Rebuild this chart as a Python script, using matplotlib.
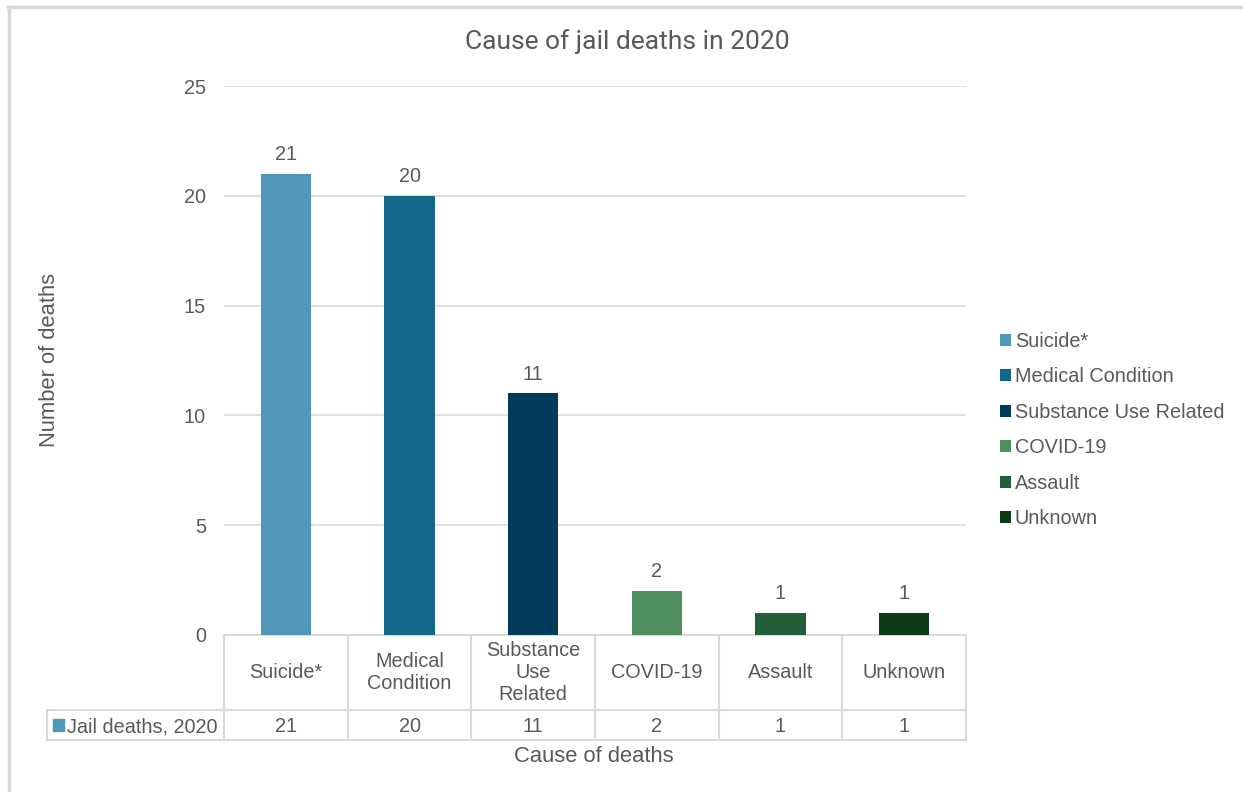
import matplotlib
matplotlib.use("Agg")
import matplotlib.pyplot as plt
from matplotlib.lines import Line2D
from matplotlib.patches import Patch

categories = ["Suicide*", "Medical\nCondition", "Substance\nUse\nRelated", "COVID-19", "Assault", "Unknown"]
legend_labels = ["Suicide*", "Medical Condition", "Substance Use Related", "COVID-19", "Assault", "Unknown"]
deaths = [21, 20, 11, 2, 1, 1]
colors = ["#5097ba", "#12678a", "#003b5c", "#4f8e5f", "#22603a", "#0b3a16"]
series_name = "Jail deaths, 2020"
y_ticks = [0, 5, 10, 15, 20, 25]

TXT = "#595959"
GRID = "#d9d9d9"
FONT = "Liberation Sans"
FS = 14.3

W, H = 1243, 792
fig = plt.figure(figsize=(W / 100, H / 100), dpi=100)
fig.patch.set_facecolor("white")

# outer chart frame (top and left edges)
fig.add_artist(Line2D([8 / W, 1], [1 - 7 / H, 1 - 7 / H], color=GRID, lw=2.5, transform=fig.transFigure))
fig.add_artist(Line2D([8.5 / W, 8.5 / W], [0, 1 - 7 / H], color=GRID, lw=2.5, transform=fig.transFigure))

left, right, top, bottom = 224, 966, 86, 635
ax = fig.add_axes([left / W, 1 - bottom / H, (right - left) / W, (bottom - top) / H])
ax.set_xlim(-0.5, len(deaths) - 0.5)
ax.set_ylim(0, 25)
for s in ax.spines.values():
    s.set_visible(False)
ax.set_yticks(y_ticks)
ax.yaxis.grid(True, color=GRID, lw=1.2)
ax.set_axisbelow(True)
ax.tick_params(axis="y", length=0, pad=13, labelsize=FS, labelcolor=TXT)
for lab in ax.get_yticklabels():
    lab.set_fontfamily(FONT)
ax.set_xticks([])

x = list(range(len(deaths)))
bars = ax.bar(x, deaths, width=0.405, color=colors, zorder=3)
for xi, v in zip(x, deaths):
    ax.annotate(str(v), (xi, v), xytext=(0, 7), textcoords="offset points",
                ha="center", va="bottom", fontsize=FS, color=TXT, family=FONT)

# data table under the axis
ph = bottom - top
r1 = -(710 - bottom) / ph
r2 = -(740 - bottom) / ph
tr = ax.get_xaxis_transform()
n = len(deaths)
x_left_tab = -0.5 + (47 - left) / ((right - left) / n)
kw = dict(color=GRID, lw=1.5, transform=tr, clip_on=False)
ax.add_line(Line2D([-0.5, n - 0.5], [0, 0], **kw))
ax.add_line(Line2D([x_left_tab, n - 0.5], [r1, r1], **kw))
ax.add_line(Line2D([x_left_tab, n - 0.5], [r2, r2], **kw))
ax.add_line(Line2D([x_left_tab, x_left_tab], [r1, r2], **kw))
for b in range(n + 1):
    ax.add_line(Line2D([b - 0.5, b - 0.5], [0, r2], **kw))

for xi, (cat, v) in enumerate(zip(categories, deaths)):
    ax.text(xi, r1 / 2, cat, transform=tr, ha="center", va="center",
            fontsize=FS, color=TXT, family=FONT, linespacing=1.22)
    ax.text(xi, (r1 + r2) / 2 - 0.003, str(v), transform=tr, ha="center", va="center",
            fontsize=FS, color=TXT, family=FONT)

# series key in the table header cell
key_x = x_left_tab + 0.05
ax.add_patch(plt.Rectangle((key_x, (r1 + r2) / 2 - 0.011), 0.085, 0.022, transform=tr,
                           color=colors[0], clip_on=False))
ax.text(key_x + 0.11, (r1 + r2) / 2 - 0.003, series_name, transform=tr, ha="left", va="center",
        fontsize=FS, color=TXT, family=FONT)

# titles
fig.text(627 / W, 1 - 42 / H, "Cause of jail deaths in 2020", ha="center", va="center",
         fontsize=19, color=TXT, family="Roboto")
fig.text(594 / W, 1 - 757 / H, "Cause of deaths", ha="center", va="center",
         fontsize=15.8, color=TXT, family=FONT)
fig.text(50 / W, 1 - 360 / H, "Number of deaths", ha="center", va="center", rotation=90,
         fontsize=15.8, color=TXT, family=FONT)

handles = [Patch(facecolor=c, edgecolor="none", label=l) for c, l in zip(colors, legend_labels)]
leg = fig.legend(handles=handles, loc="upper left", bbox_to_anchor=(1000 / W, 1 - 332 / H),
                 frameon=False, borderpad=0, borderaxespad=0, handlelength=0.55, handleheight=0.55,
                 handletextpad=0.2, labelspacing=0.83, prop={"family": FONT, "size": FS})
for t in leg.get_texts():
    t.set_color(TXT)

fig.savefig("out.png", dpi=100, facecolor="white")
